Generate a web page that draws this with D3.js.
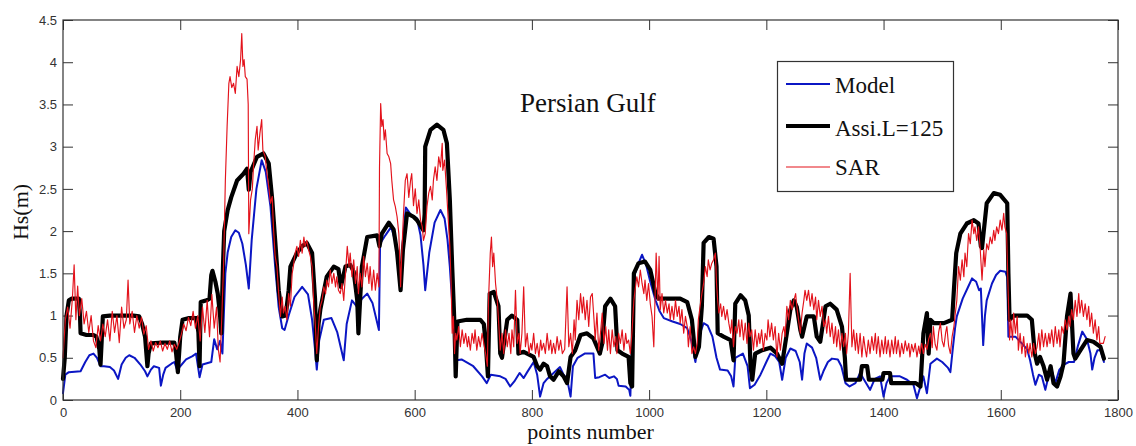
<!DOCTYPE html>
<html><head><meta charset="utf-8">
<script src="https://cdn.jsdelivr.net/npm/d3@7"></script>
<style>body{margin:0;background:#fff}svg{display:block}</style>
</head><body>
<svg id="c" width="1136" height="446"></svg>
<script>
const xTicks=[0,200,400,600,800,1000,1200,1400,1600,1800];
const yTicks=[0,0.5,1,1.5,2,2.5,3,3.5,4,4.5];
const seriesNames=["Model","Assi.L=125","SAR"];
const chartTitle="Persian Gulf";
const xLabel="points number", yLabel="Hs(m)";

const model=[[0,0.08],[4,0.3],[10,0.33],[30,0.34],[38,0.45],[45,0.53],[52,0.55],[58,0.5],[64,0.4],[70,0.4],[80,0.39],[87,0.35],[94,0.25],[100,0.42],[107,0.5],[113,0.53],[122,0.5],[132,0.42],[140,0.34],[144,0.28],[150,0.36],[155,0.4],[164,0.38],[167,0.17],[171,0.3],[175,0.38],[185,0.43],[190,0.45],[195,0.35],[200,0.4],[210,0.48],[221,0.52],[227,0.55],[233,0.27],[238,0.42],[253,0.45],[258,0.72],[263,0.6],[268,0.7],[272,0.55],[277,1.5],[281,1.75],[287,1.93],[294,2.01],[300,1.98],[306,1.85],[312,1.6],[317,1.32],[322,1.9],[330,2.5],[339,2.84],[346,2.7],[354,2.29],[362,1.58],[368,1.1],[374,0.85],[378,0.83],[385,1.0],[395,1.22],[408,1.34],[418,1.25],[425,0.95],[430,0.6],[433,0.36],[437,0.7],[445,0.95],[458,0.97],[468,0.8],[479,0.47],[484,0.9],[493,1.18],[502,1.1],[510,1.2],[519,1.26],[528,1.15],[539,0.83],[541,1.85],[550,1.95],[560,2.05],[568,1.85],[576,1.32],[580,1.9],[585,2.28],[593,2.2],[604,2.15],[610,1.95],[615,1.6],[618,1.3],[625,1.75],[634,2.1],[644,2.25],[651,2.15],[656,1.9],[660,1.58],[666,0.95],[672,0.47],[680,0.48],[700,0.4],[715,0.28],[723,0.2],[730,0.3],[746,0.28],[755,0.25],[763,0.16],[770,0.22],[779,0.32],[786,0.26],[792,0.33],[803,0.45],[809,0.3],[814,0.04],[820,0.2],[826,0.25],[837,0.32],[848,0.39],[854,0.3],[860,0.25],[866,0.04],[870,0.4],[878,0.5],[890,0.55],[905,0.55],[908,0.26],[915,0.27],[925,0.3],[932,0.26],[940,0.28],[945,0.25],[948,0.17],[960,0.16],[966,0.12],[968,0.05],[972,0.9],[976,1.5],[982,1.62],[988,1.72],[995,1.6],[1002,1.4],[1011,1.18],[1018,1.05],[1025,0.97],[1040,0.93],[1053,0.9],[1065,0.85],[1072,0.7],[1079,0.45],[1085,0.75],[1093,0.91],[1100,0.88],[1108,0.75],[1115,0.5],[1121,0.36],[1134,0.35],[1140,0.28],[1144,0.16],[1147,0.5],[1160,0.55],[1168,0.4],[1172,0.14],[1180,0.18],[1190,0.3],[1200,0.45],[1207,0.55],[1215,0.52],[1222,0.45],[1227,0.24],[1233,0.5],[1241,0.61],[1250,0.58],[1257,0.45],[1261,0.24],[1265,0.55],[1269,0.67],[1278,0.62],[1285,0.5],[1292,0.24],[1298,0.35],[1305,0.45],[1312,0.49],[1322,0.48],[1328,0.4],[1335,0.2],[1342,0.16],[1352,0.2],[1360,0.32],[1366,0.25],[1377,0.12],[1385,0.25],[1394,0.28],[1400,0.04],[1405,0.2],[1411,0.28],[1428,0.28],[1440,0.24],[1451,0.18],[1457,0.02],[1462,0.14],[1468,0.28],[1474,0.08],[1480,0.43],[1491,0.49],[1500,0.45],[1510,0.38],[1514,0.33],[1518,0.6],[1522,0.85],[1525,0.99],[1535,1.2],[1545,1.35],[1551,1.44],[1558,1.4],[1563,1.3],[1566,1.32],[1570,0.65],[1573,1.0],[1576,1.18],[1585,1.38],[1592,1.48],[1599,1.53],[1608,1.52],[1611,1.45],[1613,0.75],[1625,0.75],[1636,0.67],[1645,0.6],[1650,0.47],[1655,0.3],[1659,0.18],[1665,0.3],[1670,0.28],[1676,0.12],[1680,0.24],[1685,0.4],[1693,0.2],[1700,0.36],[1708,0.42],[1716,0.45],[1725,0.45],[1732,0.65],[1739,0.81],[1747,0.72],[1753,0.55],[1756,0.36],[1760,0.5],[1765,0.59],[1770,0.59],[1774,0.5],[1776,0.45]];

const assi=[[0,0.25],[3,0.5],[6,1.0],[10,1.18],[15,1.2],[27,1.2],[29,1.0],[30,0.79],[40,0.77],[52,0.77],[57,0.75],[62,0.6],[64,0.42],[66,0.7],[68,0.99],[80,1.0],[100,1.0],[120,1.0],[130,0.99],[135,0.9],[140,0.75],[144,0.4],[146,0.55],[150,0.67],[170,0.68],[190,0.68],[193,0.55],[196,0.33],[200,0.75],[204,0.95],[215,0.97],[228,0.97],[231,0.8],[233,0.4],[235,1.16],[245,1.18],[250,1.2],[253,1.48],[255,1.53],[260,1.4],[264,1.26],[268,1.0],[270,0.79],[273,1.6],[275,2.0],[281,2.25],[287,2.4],[297,2.6],[308,2.68],[314,2.74],[317,2.49],[320,2.7],[331,2.88],[342,2.92],[351,2.8],[357,2.37],[362,1.89],[368,1.3],[374,0.99],[380,1.0],[385,1.3],[388,1.58],[399,1.74],[408,1.82],[416,1.86],[425,1.74],[430,1.2],[433,0.47],[436,0.9],[439,1.07],[450,1.46],[462,1.58],[470,1.55],[474,1.34],[482,1.58],[490,1.6],[496,1.52],[502,1.18],[504,0.79],[507,1.2],[510,1.58],[519,1.93],[536,1.95],[540,1.82],[544,1.97],[556,2.1],[564,2.02],[570,1.75],[576,1.3],[580,1.78],[587,2.21],[598,2.17],[604,2.13],[615,2.01],[617,2.2],[618,3.0],[627,3.2],[638,3.26],[649,3.2],[655,3.04],[660,2.37],[664,1.58],[668,0.87],[670,0.28],[673,0.93],[689,0.95],[712,0.95],[718,0.9],[722,0.6],[725,0.28],[728,1.26],[735,1.28],[743,1.11],[746,0.55],[749,0.5],[758,0.95],[766,1.0],[775,0.95],[777,0.55],[786,0.57],[803,0.51],[809,0.4],[814,0.36],[820,0.43],[826,0.4],[831,0.28],[837,0.24],[846,0.34],[854,0.28],[860,0.2],[866,0.51],[874,0.59],[883,0.77],[894,0.79],[905,0.73],[911,0.63],[916,0.55],[920,0.67],[925,1.11],[934,1.2],[942,1.11],[946,0.59],[954,0.55],[965,0.51],[968,0.2],[971,0.16],[974,1.5],[982,1.62],[993,1.64],[1002,1.54],[1011,1.26],[1016,1.2],[1053,1.2],[1065,1.16],[1073,0.95],[1079,0.51],[1085,0.63],[1090,1.11],[1093,1.86],[1102,1.93],[1110,1.91],[1115,1.58],[1117,0.79],[1127,0.75],[1139,0.71],[1144,0.47],[1147,1.14],[1156,1.24],[1164,1.18],[1170,1.0],[1173,0.4],[1176,0.24],[1181,0.55],[1193,0.59],[1207,0.62],[1218,0.55],[1227,0.43],[1235,0.79],[1241,1.07],[1247,1.18],[1252,1.1],[1258,0.83],[1261,0.75],[1269,0.99],[1281,0.99],[1286,0.75],[1292,0.69],[1301,1.11],[1309,1.14],[1320,1.07],[1329,0.87],[1334,0.5],[1336,0.24],[1360,0.24],[1363,0.4],[1372,0.4],[1375,0.24],[1398,0.24],[1400,0.32],[1411,0.32],[1413,0.2],[1440,0.2],[1455,0.2],[1463,0.16],[1468,0.79],[1474,1.03],[1477,0.55],[1480,0.95],[1486,0.91],[1503,0.91],[1517,0.95],[1520,1.3],[1524,1.74],[1531,1.97],[1542,2.09],[1554,2.13],[1562,2.09],[1566,1.82],[1568,1.8],[1571,2.0],[1576,2.33],[1588,2.45],[1599,2.43],[1611,2.33],[1613,1.5],[1615,0.95],[1622,1.0],[1645,1.0],[1653,0.95],[1658,0.55],[1662,0.43],[1667,0.51],[1673,0.4],[1679,0.24],[1685,0.4],[1690,0.2],[1696,0.16],[1702,0.28],[1707,0.43],[1713,0.99],[1719,1.26],[1724,0.55],[1727,0.49],[1736,0.59],[1747,0.71],[1758,0.69],[1770,0.63],[1776,0.49]];

const sar=[[0,0.5],[4,0.95],[8,1.1],[12,0.85],[16,1.2],[19,1.6],[22,0.95],[25,1.35],[28,1.0],[32,1.2],[36,0.9],[40,1.05],[44,0.8],[48,1.0],[52,0.7],[56,0.62],[60,0.88],[64,0.7],[68,0.9],[72,0.75],[76,0.95],[80,0.7],[84,1.05],[88,0.8],[92,1.0],[96,0.68],[100,1.1],[104,0.85],[108,0.95],[111,1.42],[114,0.9],[118,1.05],[122,0.8],[126,1.0],[130,0.85],[134,0.98],[138,0.78],[142,0.88],[146,0.6],[150,0.7],[154,0.58],[158,0.68],[162,0.62],[166,0.7],[170,0.58],[174,0.67],[178,0.6],[182,0.7],[186,0.57],[190,0.66],[194,0.6],[198,0.68],[202,0.78],[206,0.9],[210,0.82],[214,0.98],[218,0.88],[222,1.05],[226,0.85],[230,1.0],[234,0.7],[238,1.1],[242,0.8],[246,1.18],[250,0.75],[254,1.25],[258,0.85],[262,1.1],[265,0.6],[268,0.45],[271,1.0],[274,1.6],[277,2.6],[280,3.24],[283,3.75],[285,3.83],[288,3.7],[291,3.75],[294,3.63],[297,3.95],[300,3.83],[303,4.03],[305,4.34],[307,3.95],[309,4.03],[311,3.83],[314,3.8],[316,3.5],[317,1.97],[320,2.37],[323,2.5],[325,2.76],[328,3.08],[331,3.24],[333,2.96],[336,3.16],[339,3.32],[341,2.96],[345,2.88],[348,2.68],[351,2.53],[354,2.33],[357,2.41],[359,2.05],[362,1.7],[365,1.58],[368,1.26],[371,0.99],[374,1.22],[376,1.03],[379,1.11],[382,0.95],[385,1.26],[388,1.11],[391,1.5],[393,1.58],[396,1.74],[399,1.82],[402,1.7],[405,1.89],[408,1.74],[411,1.93],[413,1.82],[416,1.89],[419,1.78],[422,1.7],[425,1.58],[428,1.11],[430,0.95],[433,0.55],[436,0.87],[439,1.11],[442,1.18],[445,1.34],[448,1.26],[450,1.42],[453,1.34],[456,1.54],[459,1.38],[462,1.5],[465,1.34],[467,1.46],[470,1.3],[473,1.26],[476,1.38],[479,1.18],[482,1.5],[485,1.82],[488,1.58],[490,1.74],[493,1.46],[496,1.66],[499,1.38],[502,1.58],[504,1.26],[507,1.5],[510,1.34],[513,1.7],[516,1.46],[519,1.62],[522,1.38],[524,1.58],[527,1.3],[530,1.54],[533,1.3],[536,1.5],[539,1.34],[540,2.76],[542,3.51],[544,3.24],[546,3.32],[548,3.08],[550,3.2],[553,2.92],[556,2.88],[559,2.8],[561,2.6],[564,2.37],[567,2.29],[570,2.17],[573,1.97],[576,1.34],[578,1.74],[581,2.21],[584,2.6],[587,2.68],[590,2.4],[593,2.6],[595,2.68],[598,2.3],[601,2.5],[604,2.21],[607,2.37],[610,2.13],[613,2.05],[615,1.89],[618,1.97],[621,2.29],[624,2.45],[627,2.53],[630,2.37],[632,2.6],[635,2.76],[638,2.6],[641,2.88],[644,2.76],[647,3.04],[648,2.72],[651,2.84],[654,2.53],[657,2.17],[660,1.82],[662,1.42],[664,0.79],[666,0.99],[668,0.55],[670,0.79],[672,0.71],[675,0.87],[678,0.63],[681,0.83],[684,0.67],[687,0.79],[690,0.63],[692,0.75],[695,0.59],[698,0.79],[701,0.67],[703,0.83],[706,0.59],[709,0.75],[712,0.63],[715,0.79],[718,0.67],[721,0.55],[724,0.4],[726,1.18],[729,1.74],[731,1.93],[733,1.58],[735,1.74],[738,1.38],[741,1.18],[743,0.95],[746,0.59],[749,0.79],[752,0.55],[755,0.83],[758,0.63],[761,0.79],[764,0.55],[766,0.83],[769,0.63],[772,1.3],[775,0.67],[778,0.79],[780,0.55],[783,0.79],[786,1.34],[789,0.63],[792,0.79],[795,0.55],[798,0.67],[800,0.59],[803,0.79],[806,0.55],[809,0.67],[812,0.51],[815,0.71],[817,0.59],[820,0.67],[823,0.55],[826,0.79],[829,0.59],[832,0.71],[834,0.55],[837,0.67],[840,0.55],[843,0.75],[846,0.59],[849,0.71],[852,0.55],[856,0.6],[860,1.34],[863,0.63],[866,0.79],[869,0.55],[872,0.95],[874,0.71],[877,1.18],[880,0.95],[883,1.26],[886,1.03],[888,1.22],[891,0.95],[894,1.18],[897,0.87],[900,1.22],[903,1.26],[906,0.95],[908,0.71],[911,1.03],[914,0.59],[917,0.79],[920,1.03],[923,0.67],[926,0.87],[929,0.59],[931,0.83],[934,0.55],[937,0.83],[940,0.63],[943,0.75],[945,0.55],[948,0.79],[951,0.67],[954,0.83],[957,0.59],[960,0.79],[962,0.67],[965,0.71],[968,0.55],[971,0.83],[974,1.18],[976,1.3],[979,1.46],[982,1.34],[985,1.54],[988,1.38],[991,1.26],[993,1.42],[996,1.18],[999,1.38],[1002,1.14],[1005,0.99],[1008,0.63],[1010,1.18],[1012,1.74],[1015,1.18],[1017,1.7],[1019,1.07],[1022,1.26],[1025,1.03],[1028,1.18],[1031,1.03],[1034,1.14],[1036,0.95],[1039,1.11],[1042,0.95],[1045,1.18],[1048,0.99],[1051,1.11],[1053,0.91],[1056,1.07],[1059,0.79],[1062,0.99],[1065,0.87],[1067,0.63],[1070,0.87],[1073,0.55],[1076,0.63],[1079,0.55],[1082,0.67],[1084,0.95],[1087,1.11],[1090,1.26],[1093,1.38],[1096,1.58],[1099,1.46],[1101,1.66],[1104,1.54],[1107,1.62],[1110,1.66],[1113,1.74],[1115,1.38],[1117,1.18],[1119,1.03],[1122,1.14],[1124,0.99],[1127,1.11],[1130,0.95],[1133,1.07],[1136,0.91],[1139,0.79],[1141,0.95],[1144,0.63],[1147,0.87],[1150,0.79],[1153,0.95],[1155,0.75],[1158,0.95],[1161,0.71],[1164,0.91],[1167,0.67],[1170,0.91],[1172,0.75],[1175,0.83],[1178,0.59],[1181,0.83],[1184,0.63],[1187,0.79],[1189,0.67],[1192,0.83],[1195,0.59],[1198,0.79],[1201,0.71],[1203,0.95],[1206,0.75],[1209,0.91],[1212,0.71],[1215,0.87],[1218,0.51],[1221,0.79],[1224,0.59],[1227,0.79],[1230,0.87],[1232,0.75],[1235,1.11],[1238,0.95],[1241,1.18],[1244,1.07],[1247,1.18],[1250,1.26],[1252,1.11],[1255,0.95],[1258,0.79],[1261,1.03],[1264,1.18],[1266,1.3],[1269,1.18],[1272,1.3],[1275,1.11],[1278,1.26],[1281,1.07],[1284,1.22],[1286,0.95],[1289,1.18],[1292,0.99],[1295,1.11],[1298,0.87],[1301,0.95],[1303,0.79],[1306,0.99],[1309,0.75],[1312,0.91],[1315,0.67],[1318,0.87],[1320,0.63],[1323,0.83],[1326,0.59],[1329,0.79],[1332,0.63],[1335,0.79],[1337,0.55],[1340,0.79],[1343,1.5],[1346,0.63],[1349,0.83],[1352,0.59],[1354,0.79],[1357,0.55],[1360,0.79],[1363,0.51],[1366,0.75],[1369,0.59],[1371,0.51],[1374,0.71],[1377,0.55],[1380,0.75],[1383,0.59],[1386,0.79],[1388,0.55],[1391,0.75],[1394,0.51],[1397,0.71],[1400,0.55],[1403,0.75],[1405,0.55],[1408,0.71],[1411,0.51],[1414,0.71],[1417,0.55],[1420,0.75],[1422,0.55],[1425,0.71],[1428,0.51],[1431,0.67],[1434,0.55],[1437,0.7],[1440,0.58],[1443,0.67],[1445,0.51],[1448,0.66],[1451,0.57],[1454,0.67],[1457,0.51],[1460,0.64],[1462,0.55],[1465,0.67],[1468,0.55],[1471,0.66],[1474,0.6],[1477,0.72],[1480,0.79],[1483,0.62],[1485,0.87],[1488,0.66],[1491,0.59],[1494,0.8],[1497,0.91],[1500,0.7],[1503,0.63],[1506,0.8],[1508,0.87],[1511,0.64],[1514,0.55],[1517,0.75],[1520,0.87],[1522,1.0],[1525,1.18],[1528,1.58],[1531,1.42],[1534,1.66],[1537,1.46],[1539,1.74],[1542,1.58],[1545,1.97],[1548,1.85],[1551,2.13],[1554,1.97],[1556,2.05],[1559,1.89],[1562,2.05],[1565,1.78],[1568,1.42],[1571,1.78],[1573,1.58],[1576,1.85],[1579,1.78],[1582,1.93],[1585,1.85],[1588,2.01],[1590,1.89],[1593,2.05],[1596,1.97],[1599,2.13],[1602,2.01],[1605,2.21],[1607,2.05],[1610,1.97],[1613,1.18],[1615,0.71],[1617,0.95],[1620,0.71],[1622,1.03],[1625,0.79],[1628,0.99],[1630,0.59],[1633,0.79],[1636,0.55],[1639,0.75],[1642,0.51],[1645,0.67],[1648,0.55],[1650,0.67],[1653,0.51],[1656,0.67],[1659,0.55],[1662,0.63],[1665,0.79],[1667,0.59],[1670,0.83],[1673,0.63],[1676,0.79],[1679,0.63],[1682,0.79],[1684,0.67],[1687,0.83],[1690,0.63],[1693,0.87],[1696,0.67],[1699,0.83],[1701,0.63],[1704,0.87],[1707,0.79],[1710,0.95],[1713,0.83],[1716,0.99],[1718,0.87],[1721,1.07],[1724,0.95],[1727,1.18],[1730,0.99],[1733,1.26],[1735,1.03],[1738,1.18],[1741,0.99],[1744,1.14],[1747,0.95],[1750,1.11],[1752,0.87],[1755,1.03],[1758,0.79],[1761,0.95],[1764,0.71],[1767,0.87],[1769,0.67],[1772,0.67],[1775,0.67],[1778,0.75]];

const colors=["#0b16c4","#000000","#e3121b"];
const widths=[2,4.2,1.15];

const svg=d3.select("#c");
svg.append("rect").attr("width",1136).attr("height",446).attr("fill","#fff");
const L=63,T=20,R=1118,B=400;
const x=d3.scaleLinear().domain([0,1800]).range([L,R]);
const y=d3.scaleLinear().domain([0,4.5]).range([B,T]);
const line=d3.line().x(d=>x(d[0])).y(d=>y(d[1]));

const fontSans="'Liberation Sans', Arial, sans-serif";
const fontSerif="'Liberation Serif', 'Times New Roman', serif";

const fmt=d=>String(d);
function styleAxis(g){
  g.select(".domain").remove();
  g.selectAll(".tick line").attr("stroke","#333").attr("stroke-width",1);
  g.selectAll(".tick text").attr("fill","#333").style("font-family",fontSans).style("font-size","13px");
}
svg.append("g").attr("transform",`translate(0,${B})`)
  .call(d3.axisBottom(x).tickValues(xTicks).tickFormat(fmt).tickSizeInner(-10).tickSizeOuter(0).tickPadding(8)).call(styleAxis);
svg.append("g").attr("transform",`translate(0,${T})`)
  .call(d3.axisTop(x).tickValues(xTicks).tickFormat("").tickSizeInner(-10).tickSizeOuter(0)).call(styleAxis);
svg.append("g").attr("transform",`translate(${L},0)`)
  .call(d3.axisLeft(y).tickValues(yTicks).tickFormat(fmt).tickSizeInner(-10).tickSizeOuter(0).tickPadding(6)).call(styleAxis);
svg.append("g").attr("transform",`translate(${R},0)`)
  .call(d3.axisRight(y).tickValues(yTicks).tickFormat("").tickSizeInner(-10).tickSizeOuter(0)).call(styleAxis);

const data=[model,assi,sar];
data.forEach((d,i)=>{
  svg.append("path").datum(d).attr("d",line).attr("fill","none")
    .attr("stroke",colors[i]).attr("stroke-width",widths[i])
    .attr("stroke-linejoin","round").attr("stroke-linecap","round");
});

svg.append("rect").attr("x",L).attr("y",T).attr("width",R-L).attr("height",B-T)
  .attr("fill","none").attr("stroke","#333").attr("stroke-width",1.2);

svg.append("text").attr("x",(L+R)/2).attr("y",439).attr("text-anchor","middle")
  .style("font-family",fontSerif).style("font-size","22px").attr("fill","#111").text(xLabel);
svg.append("text").attr("transform","translate(28,212) rotate(-90)").attr("text-anchor","middle")
  .style("font-family",fontSerif).style("font-size","22px").attr("fill","#111").text(yLabel);
svg.append("text").attr("x",520).attr("y",112)
  .style("font-family",fontSerif).style("font-size","27px").attr("fill","#111").text(chartTitle);

const lg=svg.append("g");
lg.append("rect").attr("x",777.5).attr("y",61.5).attr("width",176).attr("height",130)
  .attr("fill","#fff").attr("stroke","#333").attr("stroke-width",1.2);
const lgBase=[93,136,175], lgLine=[84,126,167];
seriesNames.forEach((n,i)=>{
  lg.append("line").attr("x1",786).attr("x2",830).attr("y1",lgLine[i]).attr("y2",lgLine[i])
    .attr("stroke",colors[i]).attr("stroke-width",widths[i]);
  lg.append("text").attr("x",835).attr("y",lgBase[i])
    .style("font-family",fontSerif).style("font-size","23px").attr("fill","#111").text(n);
});
</script>
</body></html>
